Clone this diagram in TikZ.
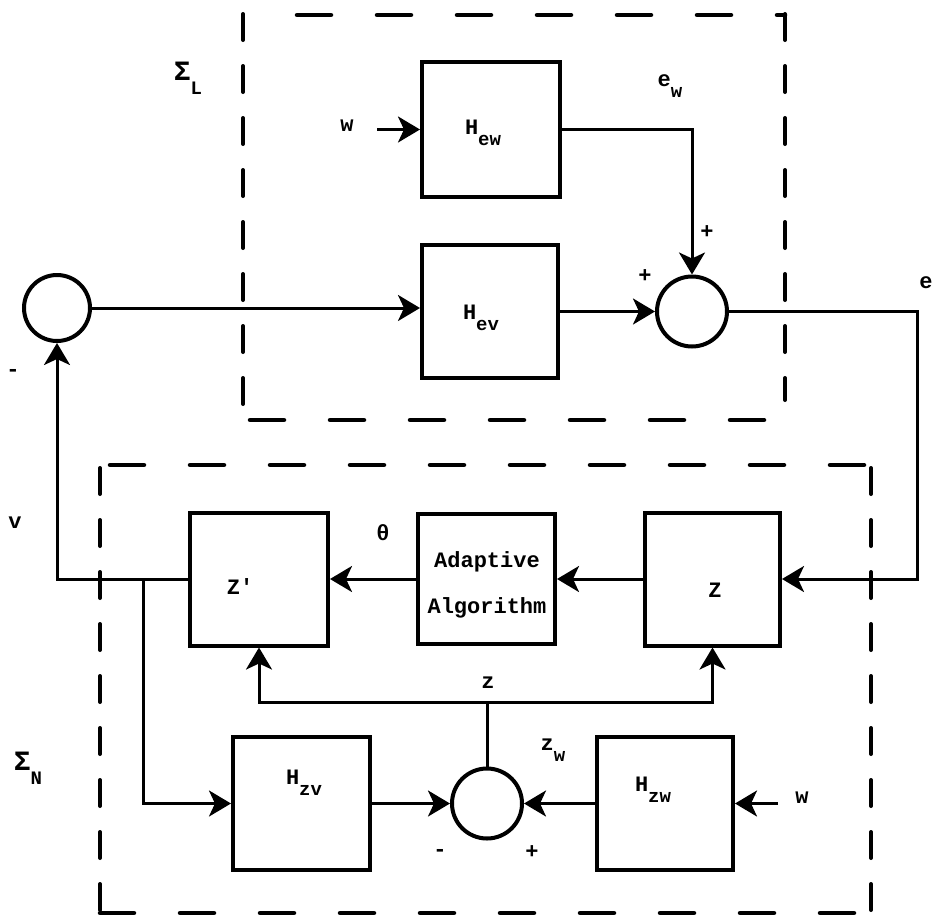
\documentclass[tikz,border=0pt]{standalone}
\usepackage{fontspec}
\setmainfont{Liberation Mono}[Ligatures=NoCommon]
\usetikzlibrary{arrows.meta}
\newcommand\lblfont{\fontsize{22}{24}\selectfont\bfseries}
\newcommand\sbs[1]{\raisebox{-0.5em}{\fontsize{19}{20}\selectfont #1}}
\tikzset{
  blk/.style={draw, line width=4pt, inner sep=0pt},
  sumc/.style={draw, circle, line width=4pt, minimum size=70pt, inner sep=0pt},
  con/.style={line width=3pt},
  arr/.style={con, -{Stealth[length=22pt,width=26pt,inset=6pt]}},
  txt/.style={font=\lblfont, inner sep=0pt},
  hdash/.style={line width=4.5pt, line cap=round, dash pattern=on 34pt off 46pt},
  vdash/.style={line width=4pt, line cap=round, dash pattern=on 26pt off 26pt}
}
\begin{document}
\begin{tikzpicture}[x=1pt,y=-1pt]
\useasboundingbox (0,0) rectangle (937,919);

% dashed enclosures
\draw[hdash] (297,15) -- (785,15);
\draw[vdash] (243,14) -- (243,418);
\draw[vdash] (785,14) -- (785,400);
\draw[hdash] (250,420) -- (785,420);
\draw[hdash] (110,465) -- (872,465);
\draw[vdash] (100,468) -- (100,912);
\draw[vdash] (871,468) -- (871,912);
\draw[hdash] (100,913) -- (866,913);

% blocks
\node[blk, minimum width=138pt, minimum height=135pt] (Hew) at (491,129.5) {};
\node[blk, minimum width=136pt, minimum height=133pt] (Hev) at (490,311.5) {};
\node[sumc] (sumR) at (692,311.5) {};
\node[sumc, minimum size=66pt] (sumL) at (57,308) {};
\node[blk, minimum width=138pt, minimum height=133pt] (Zp) at (259,579) {};
\node[blk, minimum width=137pt, minimum height=130pt] (AA) at (486.5,579) {};
\node[blk, minimum width=135pt, minimum height=133pt] (Z) at (712.5,579) {};
\node[blk, minimum width=137pt, minimum height=133pt] (Hzv) at (301.5,803.5) {};
\node[blk, minimum width=136pt, minimum height=133pt] (Hzw) at (665,803.5) {};
\node[sumc] (sumB) at (487,803.5) {};

% block texts
\node[txt] (tHew) at (483,133) {H\sbs{ew}};
\node[txt] (tHev) at (481,318) {H\sbs{ev}};
\node[txt] (tZp) at (240,587) {Z\textquotesingle};
\node[txt, align=center, font=\fontsize{22}{46}\selectfont\bfseries] (tAA) at (487,585) {Adaptive\\Algorithm};
\node[txt] (tZ) at (715,590) {Z};
\node[txt] (tHzv) at (304,783) {H\sbs{zv}};
\node[txt] (tHzw) at (653,790) {H\sbs{zw}};

% free ends
\coordinate (wIn) at (377,129.5);
\coordinate (eC) at (917,450);
\coordinate (br) at (143,579);
\coordinate (zJ) at (487,702);
\coordinate (wIn2) at (778,803.5);

% connectors
\draw[arr] (wIn) -- (Hew.west);
\draw[arr] (Hew.east) -| (sumR.north);
\draw[arr] (sumL.east) -- (sumL.east -| Hev.west);
\draw[arr] (Hev.east) -- (sumR.west);
\draw[arr] (sumR.east) -| (eC) |- (Z.east);
\draw[arr] (Z.west) -- (AA.east);
\draw[arr] (AA.west) -- (Zp.east);
\draw[arr] (Zp.west) -| (sumL.south);
\draw[arr] (br) |- (Hzv.west);
\draw[arr] (Hzv.east) -- (sumB.west);
\draw[arr] (Hzw.west) -- (sumB.east);
\draw[arr] (wIn2) -- (Hzw.east);
\draw[con] (sumB.north) -- (zJ);
\draw[arr] (zJ) -| (Zp.south);
\draw[arr] (zJ) -| (Z.south);

% labels
\node[txt, font=\fontsize{28}{30}\selectfont\bfseries] (lSL) at (188,78) {Σ\sbs{L}};
\node[txt, font=\fontsize{28}{30}\selectfont\bfseries] (lSN) at (28,768) {Σ\sbs{N}};
\node[txt] (lw1) at (347,126) {w};
\node[txt] (lew) at (670,86) {e\sbs{w}};
\node[txt] (lp1) at (707,232) {+};
\node[txt] (lp2) at (645,276) {+};
\node[txt] (le) at (926,283) {e};
\node[txt] (lm1) at (13,373) {-};
\node[txt] (lv) at (15,523) {v};
\node[txt] (lth) at (383,533) {θ};
\node[txt] (lz) at (488,683) {z};
\node[txt] (lzw) at (553,750) {z\sbs{w}};
\node[txt] (lm2) at (440,853) {-};
\node[txt] (lp3) at (532,852) {+};
\node[txt] (lw2) at (802,798) {w};
\end{tikzpicture}
\end{document}
